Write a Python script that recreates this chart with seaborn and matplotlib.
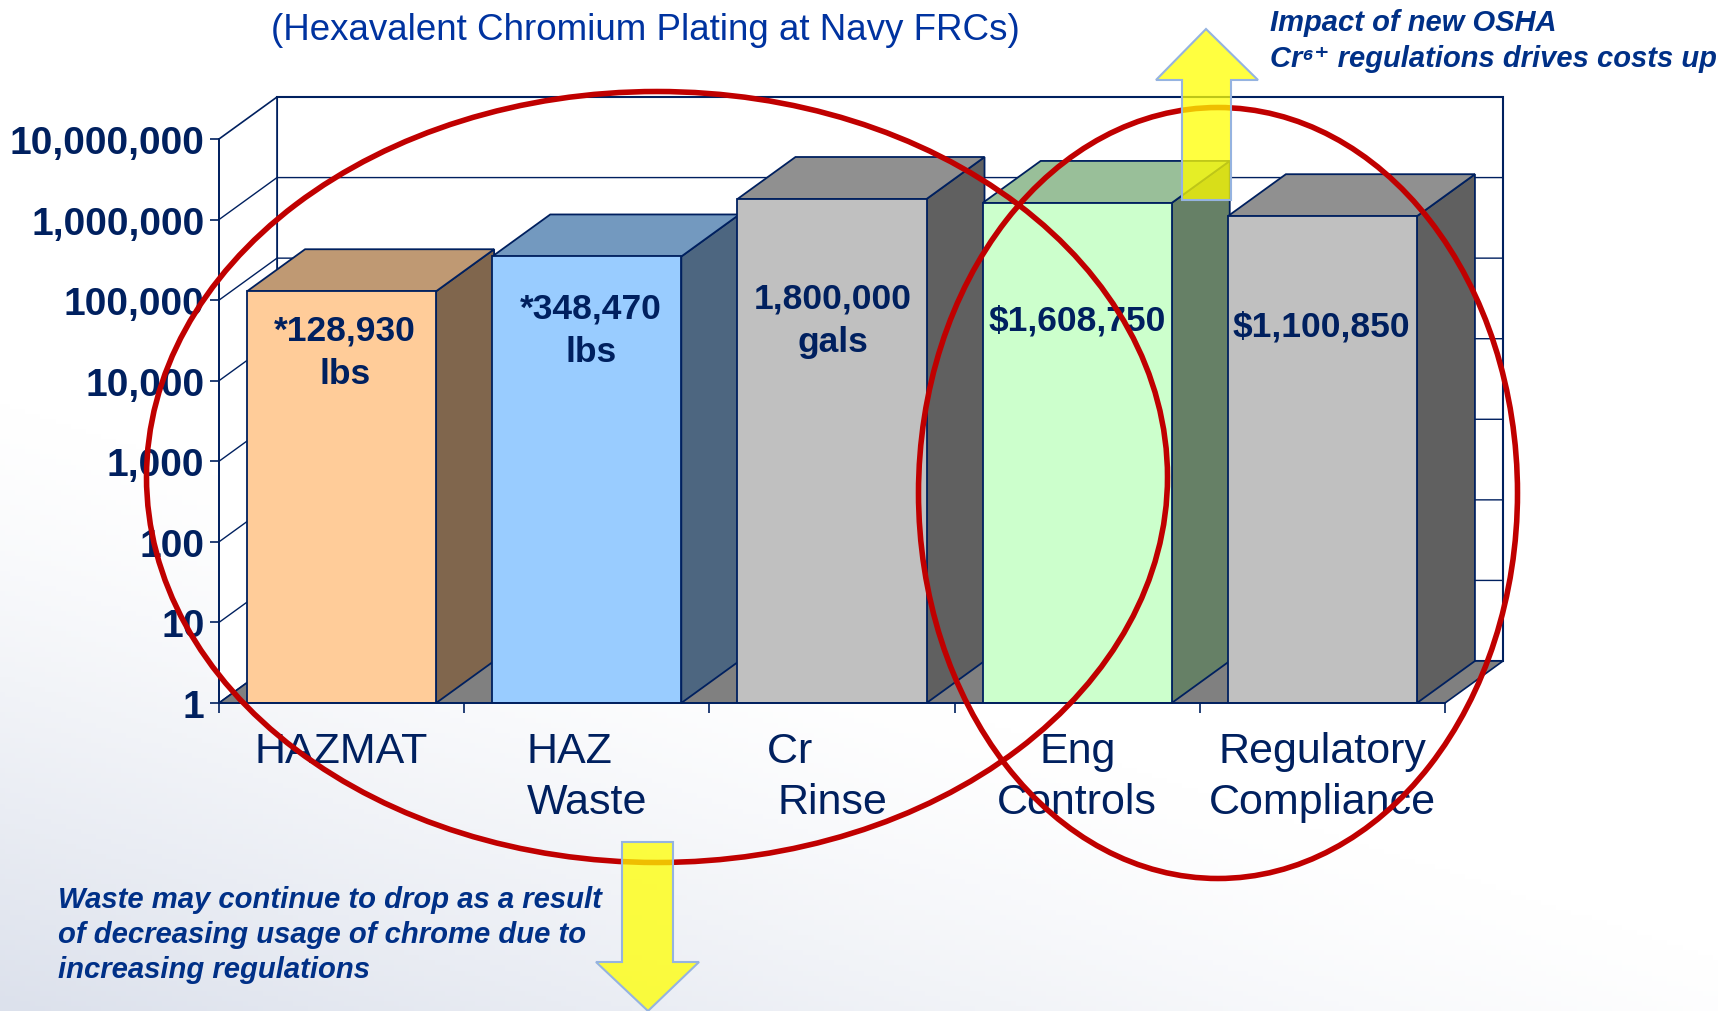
import numpy as np
import matplotlib
matplotlib.use("Agg")
import matplotlib.pyplot as plt
from matplotlib.patches import Polygon, Ellipse
from matplotlib.ticker import NullLocator
from matplotlib.transforms import IdentityTransform
from matplotlib.colors import to_rgb
import seaborn as sns

# ---- data ----
categories = ["HAZMAT", "HAZ\nWaste", "Cr       \nRinse", "Eng\nControls", "Regulatory\nCompliance"]
category_keys = ["HAZMAT", "HAZ Waste", "Cr Rinse", "Eng Controls", "Regulatory Compliance"]
values = [128930, 348470, 1800000, 1608750, 1100850]
bar_labels = ["*128,930\nlbs", "*348,470\nlbs", "1,800,000\ngals", "$1,608,750", "$1,100,850"]
bar_colors = ["#FFCC99", "#99CCFF", "#C0C0C0", "#CCFFCC", "#C0C0C0"]
y_ticks = [1, 10, 100, 1000, 10000, 100000, 1000000, 10000000]
y_tick_labels = ["1", "10", "100", "1,000", "10,000", "100,000", "1,000,000", "10,000,000"]
title = "(Hexavalent Chromium Plating at Navy FRCs)"
note_up = "Impact of new OSHA\nCr\u2076\u207a regulations drives costs up"
note_down = "Waste may continue to drop as a result\nof decreasing usage of chrome due to\nincreasing regulations"

# ---- layout (pixels of the 1718x1012 figure) ----
W, H = 1718, 1012
AX_L, AX_R, AX_T, AX_B = 219, 1445, 140, 704
DX, DY = 58, 42
NAVY = "#00205F"
NOTE = "#003087"
SANS = ["Liberation Sans", "DejaVu Sans"]

sns.set_theme(style="white")
plt.rcParams["font.family"] = SANS

fig = plt.figure(figsize=(W / 100, H / 100), dpi=100)

# background gradient
bg = fig.add_axes([0, 0, 1, 1], zorder=0)
yy, xx = np.mgrid[0:1:200j, 0:1:340j]
s = np.clip((yy - 0.55 * xx - 0.4) / 0.6, 0, 1) ** 1.25
img = np.ones((*s.shape, 3))
for k, d_ in enumerate((0x23, 0x1E, 0x13)):
    img[..., k] = 1 - s * d_ / 255
bg.imshow(img, extent=(0, W, H, 0), aspect="auto")
bg.set_axis_off()

# main axes = front plane of the 3-D chart
ax = fig.add_axes([AX_L / W, 1 - AX_B / H, (AX_R - AX_L) / W, (AX_B - AX_T) / H], zorder=1)
ax.patch.set_alpha(0)
sns.barplot(x=category_keys, y=values, hue=category_keys, palette=bar_colors, width=0.771,
            saturation=1, edgecolor=NAVY, linewidth=1.3, legend=False, log_scale=(False, True),
            dodge=False, ax=ax)
bars = sorted(list(ax.patches), key=lambda p: p.get_x())
ax.set_xlim(-0.5, 4.5)
ax.set_ylim(y_ticks[0], y_ticks[-1])
x0, x1 = ax.get_xlim()
y0, y1 = ax.get_ylim()
# a log axis cannot show a bar base of zero: start each bar on the axis floor
for b, v in zip(bars, values):
    b.set_y(y0)
    b.set_height(v - y0)
    b.set_zorder(3)
fig.canvas.draw()

d = np.array([DX, DY])
def px(x, y):
    return ax.transData.transform((x, y))
def face(points, color, z, lw=1.3):
    ax.add_patch(Polygon(points, closed=True, facecolor=color, edgecolor=NAVY, linewidth=lw,
                         transform=IdentityTransform(), clip_on=False, zorder=z))

# walls and floor
face([px(x0, y0) + d, px(x1, y0) + d, px(x1, y1) + d, px(x0, y1) + d], "white", 0.1, lw=1.5)
face([px(x0, y0), px(x0, y0) + d, px(x0, y1) + d, px(x0, y1)], "white", 0.1, lw=1.2)
face([px(x0, y0), px(x1, y0), px(x1, y0) + d, px(x0, y0) + d], "#808080", 0.2, lw=1.2)
for v in y_ticks[1:-1]:
    a, b_, c = px(x0, v), px(x0, v) + d, px(x1, v) + d
    ax.plot([a[0], b_[0], c[0]], [a[1], b_[1], c[1]], color=NAVY, lw=1.0,
            transform=IdentityTransform(), clip_on=False, zorder=0.3)

# depth faces of the bars
for i, (b, col) in enumerate(zip(bars, bar_colors)):
    c = np.array(to_rgb(col))
    bl, br = b.get_x(), b.get_x() + b.get_width()
    top = values[i]
    face([px(br, y0), px(br, top), px(br, top) + d, px(br, y0) + d], c * 0.5, 1 + 0.01 * i)
    face([px(bl, top), px(br, top), px(br, top) + d, px(bl, top) + d], c * 0.75, 1 + 0.01 * i)

# axes furniture
for side in ("top", "right"):
    ax.spines[side].set_visible(False)
for side in ("left", "bottom"):
    ax.spines[side].set_color(NAVY)
    ax.spines[side].set_linewidth(1.3)
    ax.spines[side].set_zorder(4)
ax.set_yticks(y_ticks, y_tick_labels)
ax.yaxis.set_minor_locator(NullLocator())
ax.tick_params(axis="y", which="major", left=True, length=6.5, width=1.2, color=NAVY, pad=4,
               labelsize=28, labelcolor=NAVY)
for t in ax.get_yticklabels():
    t.set_fontweight("bold")
ax.set_xticks(np.arange(-0.5, 5, 1), [""] * 6)
ax.set_xticks(np.arange(5), categories, minor=True)
ax.tick_params(axis="x", which="major", bottom=True, length=7.2, width=1.2, color=NAVY)
ax.tick_params(axis="x", which="minor", bottom=False, length=0, pad=20, labelsize=31, labelcolor=NAVY)
for t, ma in zip(ax.get_xticklabels(minor=True), ["center", "left", "center", "center", "center"]):
    t.set_multialignment(ma)
    t.set_linespacing(1.36)
ax.set_xlabel("")
ax.set_ylabel("")

# overlay in pixel coordinates
ov = fig.add_axes([0, 0, 1, 1], zorder=2)
ov.set_xlim(0, W)
ov.set_ylim(H, 0)
ov.set_axis_off()
ov.patch.set_alpha(0)

label_xy = [(345, 353), (591, 331), (833, 321), (1077, 321), (1321, 327)]
for (lx, ly), txt in zip(label_xy, bar_labels):
    ov.text(lx, ly, txt, ha="center", va="center", fontsize=25.5, fontweight="bold",
            color=NAVY, linespacing=1.4, zorder=1)

ov.add_patch(Ellipse((657, 478), 1021, 771, fill=False, edgecolor="#C00000", linewidth=4, zorder=2))
ov.add_patch(Ellipse((1218, 494), 599, 771, fill=False, edgecolor="#C00000", linewidth=4, zorder=2))

up = [(1206, 30), (1258, 81), (1231, 81), (1231, 201), (1182, 201), (1182, 81), (1156, 81)]
down = [(622, 843), (673, 843), (673, 963), (699, 963), (648, 1012), (596, 963), (622, 963)]
for pts in (up, down):
    ov.add_patch(Polygon(pts, closed=True, facecolor=(1, 1, 0, 0.75), edgecolor="#95B3E0",
                         linewidth=1.5, zorder=3, clip_on=False))

ov.text(645, 30, title, ha="center", va="center", fontsize=26.5, color="#0033A0", zorder=4)
ov.text(1270, 41, note_up, ha="left", va="center", fontsize=21, fontstyle="italic",
        fontweight="bold", color=NOTE, linespacing=1.4, zorder=4)
ov.text(58, 935, note_down, ha="left", va="center", fontsize=21.1, fontstyle="italic",
        fontweight="bold", color=NOTE, linespacing=1.34, zorder=4)

fig.savefig("out.png", dpi=100)
